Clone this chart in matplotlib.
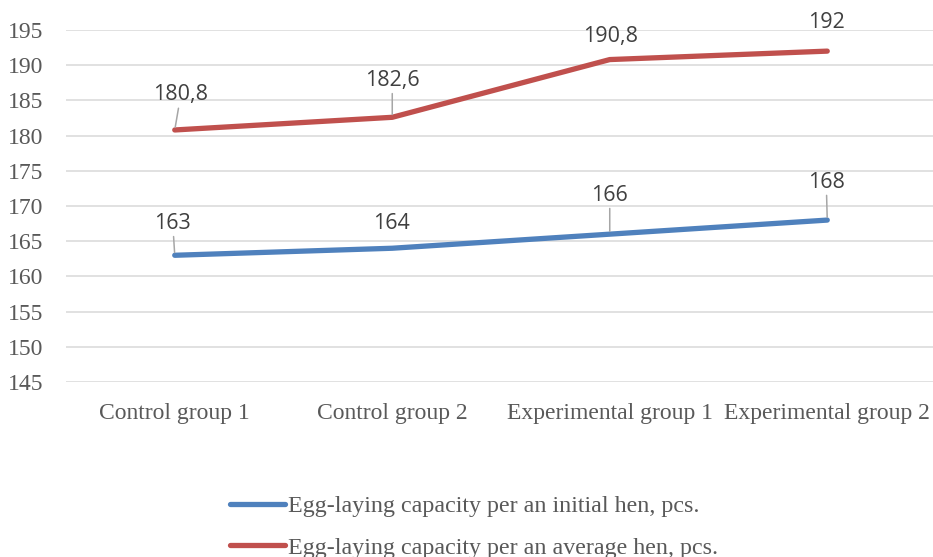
import matplotlib
matplotlib.use("Agg")
import matplotlib.pyplot as plt
from matplotlib.lines import Line2D

categories = ["Control group 1", "Control group 2", "Experimental group 1", "Experimental group 2"]
initial_hen = [163, 164, 166, 168]
average_hen = [180.8, 182.6, 190.8, 192]
series_names = ["Egg-laying capacity per an initial hen, pcs.",
                "Egg-laying capacity per an average hen, pcs."]
y_ticks = list(range(145, 200, 5))

BLUE = "#4F81BD"
RED = "#C0504D"
GRID = "#D9D9D9"
TICK_COLOR = "#595959"
LABEL_COLOR = "#404040"
LEADER = "#A6A6A6"

plt.rcParams["font.family"] = ["Liberation Serif", "DejaVu Serif"]

fig = plt.figure(figsize=(9.33, 5.57), dpi=100)
ax = fig.add_axes([66 / 933, 1 - 382 / 557, (936 - 66) / 933, (382 - 30) / 557])

x = list(range(len(categories)))
ax.set_xlim(-0.5, len(categories) - 0.5)
ax.set_ylim(145, 195)

for val in y_ticks:
    ax.axhline(val, color=GRID, lw=1.1, zorder=0)

ax.plot(x, initial_hen, color=BLUE, lw=3.8, solid_capstyle="round",
        solid_joinstyle="round", zorder=3)
ax.plot(x, average_hen, color=RED, lw=3.8, solid_capstyle="round",
        solid_joinstyle="round", zorder=3)

for s in ax.spines.values():
    s.set_visible(False)

ax.set_yticks(y_ticks)
ax.set_xticks(x)
ax.tick_params(axis="both", length=0, labelcolor=TICK_COLOR)
ax.tick_params(axis="y", pad=16, labelsize=17)
ax.tick_params(axis="x", pad=15, labelsize=17)
ax.set_yticklabels([str(v) for v in y_ticks])
ax.set_xticklabels(categories)


def fmt(v):
    return f"{v:g}".replace(".", ",")


# label offsets in pixels (dx, dy) from each point, and whether a leader line is drawn
blue_offsets = [(-2, 32, True), (-1, 25, False), (0, 39, True), (-1, 38, True)]
red_offsets = [(6, 35, True), (0, 37, True), (1, 23, False), (-1, 29, False)]

px2pt = 72 / 100


def label(series, offsets):
    for xi, v, (dx, dy, leader) in zip(x, series, offsets):
        arrow = dict(arrowstyle="-", color=LEADER, lw=1.1, shrinkA=0, shrinkB=2) if leader else None
        ax.annotate(fmt(v), xy=(xi, v), xytext=(dx * px2pt, dy * px2pt),
                    textcoords="offset points", ha="center", va="center",
                    fontsize=15.5, family=["Open Sans", "DejaVu Sans"],
                    color=LABEL_COLOR, arrowprops=arrow, zorder=4)


label(initial_hen, blue_offsets)
label(average_hen, red_offsets)

handles = [Line2D([0], [0], color=BLUE, lw=3.8, solid_capstyle="round"),
           Line2D([0], [0], color=RED, lw=3.8, solid_capstyle="round")]
leg = fig.legend(handles, series_names, loc="center left",
                 bbox_to_anchor=(230 / 933, 1 - 527 / 557), frameon=False,
                 prop={"size": 17.3},
                 handlelength=2.3, handletextpad=0.12, labelspacing=0.82,
                 borderpad=0, borderaxespad=0)
for t in leg.get_texts():
    t.set_color(TICK_COLOR)

fig.savefig("out.png", dpi=100)
